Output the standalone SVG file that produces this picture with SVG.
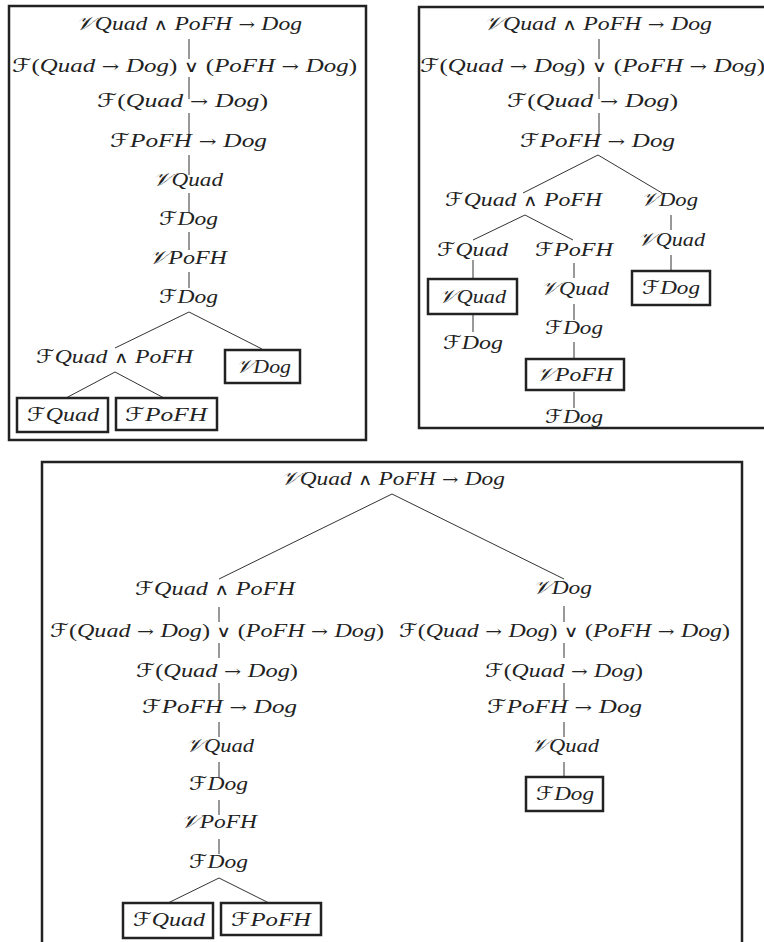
<svg xmlns="http://www.w3.org/2000/svg" width="764" height="942" viewBox="0 0 764 942">
<style>
.t{font-family:"Liberation Serif","DejaVu Serif",serif;font-style:italic;font-size:19px;fill:#222}
.s{font-family:"DejaVu Serif","DejaVu Sans","Liberation Serif",serif;font-style:italic;font-size:19px}
.u{font-style:normal}
.o{font-family:"DejaVu Serif","DejaVu Sans",serif;font-style:normal;font-size:16px}
.frame{fill:none;stroke:#222;stroke-width:2.5}
.leaf{fill:#fff;stroke:#222;stroke-width:2.5}
.c line{stroke:#333;stroke-width:1}
</style>
<rect width="764" height="942" fill="#fff"/>
<g id="frames">
<rect class="frame" x="9" y="6" width="357" height="434"/>
<rect class="frame" x="419" y="7" width="360" height="421"/>
<rect class="frame" x="42" y="462" width="700" height="500"/>
</g>
<g id="connectors" class="c">
<line x1="189" y1="39" x2="189" y2="59"/><line x1="189" y1="77" x2="189" y2="99"/><line x1="189" y1="113" x2="189" y2="137"/><line x1="189" y1="155" x2="189" y2="175"/><line x1="189" y1="193" x2="189" y2="213"/><line x1="189" y1="232" x2="189" y2="250"/><line x1="189" y1="272" x2="189" y2="288"/>
<line x1="189" y1="312" x2="115" y2="348"/><line x1="189" y1="312" x2="262" y2="349"/>
<line x1="115" y1="372" x2="66" y2="398"/><line x1="115" y1="372" x2="164" y2="398"/>
<line x1="599" y1="39" x2="599" y2="59"/><line x1="599" y1="77" x2="599" y2="99"/><line x1="599" y1="113" x2="599" y2="137"/>
<line x1="598" y1="155" x2="523" y2="193"/><line x1="598" y1="155" x2="662" y2="193"/>
<line x1="525" y1="215" x2="473" y2="240"/><line x1="525" y1="215" x2="573" y2="240"/>
<line x1="671" y1="215" x2="671" y2="230"/><line x1="671" y1="255" x2="671" y2="271"/>
<line x1="473" y1="260" x2="473" y2="279"/><line x1="473" y1="314" x2="473" y2="332"/>
<line x1="574" y1="263" x2="574" y2="278"/><line x1="574" y1="304" x2="574" y2="320"/><line x1="574" y1="342" x2="574" y2="359"/><line x1="574" y1="392" x2="574" y2="408"/>
<line x1="392" y1="494" x2="219" y2="579"/><line x1="392" y1="494" x2="564" y2="579"/>
<line x1="219" y1="607" x2="219" y2="622"/><line x1="219" y1="643" x2="219" y2="658"/><line x1="219" y1="683" x2="219" y2="700"/><line x1="219" y1="722" x2="219" y2="737"/><line x1="219" y1="762" x2="219" y2="777"/><line x1="219" y1="800" x2="219" y2="815"/><line x1="219" y1="839" x2="219" y2="854"/>
<line x1="219" y1="878" x2="168" y2="903"/><line x1="219" y1="878" x2="269" y2="903"/>
<line x1="564" y1="606" x2="564" y2="622"/><line x1="564" y1="643" x2="564" y2="658"/><line x1="564" y1="683" x2="564" y2="700"/><line x1="564" y1="722" x2="564" y2="737"/><line x1="564" y1="762" x2="564" y2="777"/>
</g>
<g id="t1n1"><text class="t" x="75" y="30" textLength="227" lengthAdjust="spacingAndGlyphs"><tspan class="s">𝒱</tspan>Quad<tspan class="o"> ∧ </tspan>PoFH<tspan class="o"> → </tspan>Dog</text></g>
<g id="t1n2"><text class="t" x="12" y="72" textLength="345" lengthAdjust="spacingAndGlyphs"><tspan class="s">ℱ</tspan><tspan class="u">(</tspan>Quad<tspan class="o"> → </tspan>Dog<tspan class="u">)</tspan><tspan class="o"> ∨ </tspan><tspan class="u">(</tspan>PoFH<tspan class="o"> → </tspan>Dog<tspan class="u">)</tspan></text></g>
<g id="t1n3"><text class="t" x="97" y="107" textLength="171" lengthAdjust="spacingAndGlyphs"><tspan class="s">ℱ</tspan><tspan class="u">(</tspan>Quad<tspan class="o"> → </tspan>Dog<tspan class="u">)</tspan></text></g>
<g id="t1n4"><text class="t" x="110" y="147" textLength="157" lengthAdjust="spacingAndGlyphs"><tspan class="s">ℱ</tspan>PoFH<tspan class="o"> → </tspan>Dog</text></g>
<g id="t1n5"><text class="t" x="152" y="186" textLength="71" lengthAdjust="spacingAndGlyphs"><tspan class="s">𝒱</tspan>Quad</text></g>
<g id="t1n6"><text class="t" x="159" y="225" textLength="59" lengthAdjust="spacingAndGlyphs"><tspan class="s">ℱ</tspan>Dog</text></g>
<g id="t1n7"><text class="t" x="148" y="264" textLength="79" lengthAdjust="spacingAndGlyphs"><tspan class="s">𝒱</tspan>PoFH</text></g>
<g id="t1n8"><text class="t" x="159" y="303" textLength="59" lengthAdjust="spacingAndGlyphs"><tspan class="s">ℱ</tspan>Dog</text></g>
<g id="t1n9"><text class="t" x="36" y="363" textLength="157" lengthAdjust="spacingAndGlyphs"><tspan class="s">ℱ</tspan>Quad<tspan class="o"> ∧ </tspan>PoFH</text></g>
<g id="t1n10"><rect class="leaf" x="225" y="350" width="75" height="33"/><text class="t" x="235" y="373" textLength="56" lengthAdjust="spacingAndGlyphs"><tspan class="s">𝒱</tspan>Dog</text></g>
<g id="t1n11"><rect class="leaf" x="17" y="398" width="91" height="34"/><text class="t" x="27" y="421" textLength="72" lengthAdjust="spacingAndGlyphs"><tspan class="s">ℱ</tspan>Quad</text></g>
<g id="t1n12"><rect class="leaf" x="116" y="398" width="101" height="32"/><text class="t" x="125" y="421" textLength="82" lengthAdjust="spacingAndGlyphs"><tspan class="s">ℱ</tspan>PoFH</text></g>
<g id="t2n1"><text class="t" x="483" y="30" textLength="229" lengthAdjust="spacingAndGlyphs"><tspan class="s">𝒱</tspan>Quad<tspan class="o"> ∧ </tspan>PoFH<tspan class="o"> → </tspan>Dog</text></g>
<g id="t2n2"><text class="t" x="420" y="72" textLength="345" lengthAdjust="spacingAndGlyphs"><tspan class="s">ℱ</tspan><tspan class="u">(</tspan>Quad<tspan class="o"> → </tspan>Dog<tspan class="u">)</tspan><tspan class="o"> ∨ </tspan><tspan class="u">(</tspan>PoFH<tspan class="o"> → </tspan>Dog<tspan class="u">)</tspan></text></g>
<g id="t2n3"><text class="t" x="507" y="107" textLength="171" lengthAdjust="spacingAndGlyphs"><tspan class="s">ℱ</tspan><tspan class="u">(</tspan>Quad<tspan class="o"> → </tspan>Dog<tspan class="u">)</tspan></text></g>
<g id="t2n4"><text class="t" x="520" y="147" textLength="155" lengthAdjust="spacingAndGlyphs"><tspan class="s">ℱ</tspan>PoFH<tspan class="o"> → </tspan>Dog</text></g>
<g id="t2n5"><text class="t" x="445" y="206" textLength="157" lengthAdjust="spacingAndGlyphs"><tspan class="s">ℱ</tspan>Quad<tspan class="o"> ∧ </tspan>PoFH</text></g>
<g id="t2n6"><text class="t" x="640" y="206" textLength="58" lengthAdjust="spacingAndGlyphs"><tspan class="s">𝒱</tspan>Dog</text></g>
<g id="t2n7"><text class="t" x="637" y="246" textLength="68" lengthAdjust="spacingAndGlyphs"><tspan class="s">𝒱</tspan>Quad</text></g>
<g id="t2n8"><rect class="leaf" x="632" y="271" width="78" height="34"/><text class="t" x="642" y="294" textLength="58" lengthAdjust="spacingAndGlyphs"><tspan class="s">ℱ</tspan>Dog</text></g>
<g id="t2n9"><text class="t" x="437" y="256" textLength="71" lengthAdjust="spacingAndGlyphs"><tspan class="s">ℱ</tspan>Quad</text></g>
<g id="t2n10"><rect class="leaf" x="428" y="279" width="89" height="35"/><text class="t" x="438" y="303" textLength="68" lengthAdjust="spacingAndGlyphs"><tspan class="s">𝒱</tspan>Quad</text></g>
<g id="t2n11"><text class="t" x="443" y="349" textLength="60" lengthAdjust="spacingAndGlyphs"><tspan class="s">ℱ</tspan>Dog</text></g>
<g id="t2n12"><text class="t" x="535" y="256" textLength="78" lengthAdjust="spacingAndGlyphs"><tspan class="s">ℱ</tspan>PoFH</text></g>
<g id="t2n13"><text class="t" x="540" y="295" textLength="69" lengthAdjust="spacingAndGlyphs"><tspan class="s">𝒱</tspan>Quad</text></g>
<g id="t2n14"><text class="t" x="545" y="334" textLength="58" lengthAdjust="spacingAndGlyphs"><tspan class="s">ℱ</tspan>Dog</text></g>
<g id="t2n15"><rect class="leaf" x="526" y="359" width="98" height="31"/><text class="t" x="535" y="381" textLength="78" lengthAdjust="spacingAndGlyphs"><tspan class="s">𝒱</tspan>PoFH</text></g>
<g id="t2n16"><text class="t" x="545" y="423" textLength="58" lengthAdjust="spacingAndGlyphs"><tspan class="s">ℱ</tspan>Dog</text></g>
<g id="t3n1"><text class="t" x="280" y="485" textLength="225" lengthAdjust="spacingAndGlyphs"><tspan class="s">𝒱</tspan>Quad<tspan class="o"> ∧ </tspan>PoFH<tspan class="o"> → </tspan>Dog</text></g>
<g id="t3n2"><text class="t" x="135" y="595" textLength="160" lengthAdjust="spacingAndGlyphs"><tspan class="s">ℱ</tspan>Quad<tspan class="o"> ∧ </tspan>PoFH</text></g>
<g id="t3n3"><text class="t" x="50" y="637" textLength="334" lengthAdjust="spacingAndGlyphs"><tspan class="s">ℱ</tspan><tspan class="u">(</tspan>Quad<tspan class="o"> → </tspan>Dog<tspan class="u">)</tspan><tspan class="o"> ∨ </tspan><tspan class="u">(</tspan>PoFH<tspan class="o"> → </tspan>Dog<tspan class="u">)</tspan></text></g>
<g id="t3n4"><text class="t" x="136" y="677" textLength="162" lengthAdjust="spacingAndGlyphs"><tspan class="s">ℱ</tspan><tspan class="u">(</tspan>Quad<tspan class="o"> → </tspan>Dog<tspan class="u">)</tspan></text></g>
<g id="t3n5"><text class="t" x="142" y="713" textLength="155" lengthAdjust="spacingAndGlyphs"><tspan class="s">ℱ</tspan>PoFH<tspan class="o"> → </tspan>Dog</text></g>
<g id="t3n6"><text class="t" x="185" y="752" textLength="69" lengthAdjust="spacingAndGlyphs"><tspan class="s">𝒱</tspan>Quad</text></g>
<g id="t3n7"><text class="t" x="189" y="790" textLength="59" lengthAdjust="spacingAndGlyphs"><tspan class="s">ℱ</tspan>Dog</text></g>
<g id="t3n8"><text class="t" x="180" y="828" textLength="77" lengthAdjust="spacingAndGlyphs"><tspan class="s">𝒱</tspan>PoFH</text></g>
<g id="t3n9"><text class="t" x="189" y="868" textLength="59" lengthAdjust="spacingAndGlyphs"><tspan class="s">ℱ</tspan>Dog</text></g>
<g id="t3n10"><rect class="leaf" x="123" y="903" width="90" height="35"/><text class="t" x="133" y="926" textLength="72" lengthAdjust="spacingAndGlyphs"><tspan class="s">ℱ</tspan>Quad</text></g>
<g id="t3n11"><rect class="leaf" x="221" y="903" width="100" height="32"/><text class="t" x="231" y="926" textLength="80" lengthAdjust="spacingAndGlyphs"><tspan class="s">ℱ</tspan>PoFH</text></g>
<g id="t3n12"><text class="t" x="532" y="594" textLength="60" lengthAdjust="spacingAndGlyphs"><tspan class="s">𝒱</tspan>Dog</text></g>
<g id="t3n13"><text class="t" x="399" y="637" textLength="331" lengthAdjust="spacingAndGlyphs"><tspan class="s">ℱ</tspan><tspan class="u">(</tspan>Quad<tspan class="o"> → </tspan>Dog<tspan class="u">)</tspan><tspan class="o"> ∨ </tspan><tspan class="u">(</tspan>PoFH<tspan class="o"> → </tspan>Dog<tspan class="u">)</tspan></text></g>
<g id="t3n14"><text class="t" x="485" y="677" textLength="158" lengthAdjust="spacingAndGlyphs"><tspan class="s">ℱ</tspan><tspan class="u">(</tspan>Quad<tspan class="o"> → </tspan>Dog<tspan class="u">)</tspan></text></g>
<g id="t3n15"><text class="t" x="487" y="713" textLength="155" lengthAdjust="spacingAndGlyphs"><tspan class="s">ℱ</tspan>PoFH<tspan class="o"> → </tspan>Dog</text></g>
<g id="t3n16"><text class="t" x="530" y="752" textLength="69" lengthAdjust="spacingAndGlyphs"><tspan class="s">𝒱</tspan>Quad</text></g>
<g id="t3n17"><rect class="leaf" x="526" y="777" width="77" height="34"/><text class="t" x="536" y="800" textLength="58" lengthAdjust="spacingAndGlyphs"><tspan class="s">ℱ</tspan>Dog</text></g>
</svg>
